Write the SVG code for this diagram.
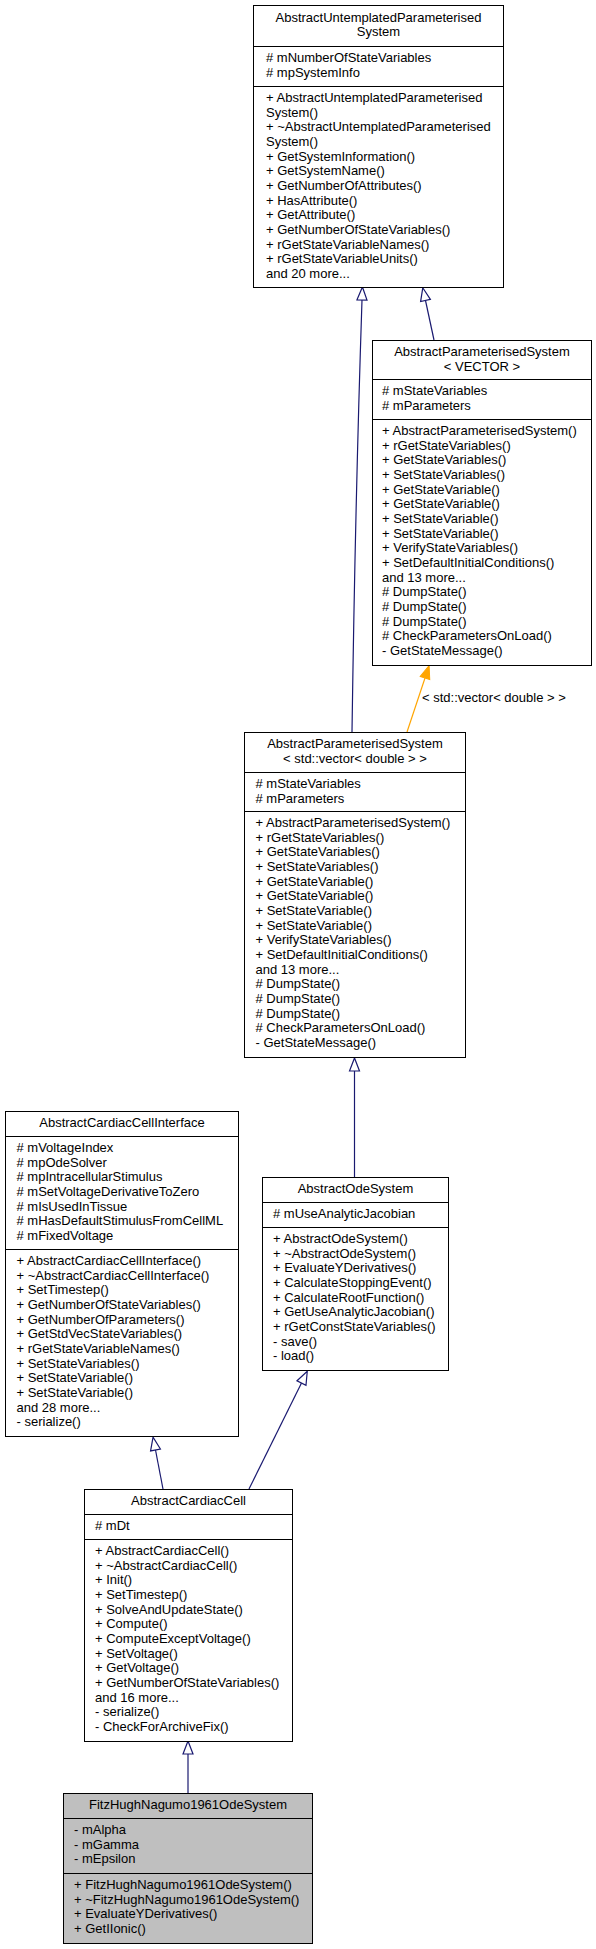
<svg xmlns="http://www.w3.org/2000/svg" width="596" height="1949" viewBox="0 0 596 1949">
<style>
text{font-family:"Liberation Sans",Arial,Helvetica,sans-serif;font-size:13px;fill:#000}
.c{text-anchor:middle}
.box{fill:#fff;stroke:#000;stroke-width:1}
.hl{fill:#bfbfbf;stroke:#000;stroke-width:1}
.div{stroke:#000;stroke-width:1}
.e{fill:none;stroke:#191970;stroke-width:1.2}
.o{fill:none;stroke:#ffa500;stroke-width:1.2}
</style>
<defs>
<marker id="inh" markerUnits="userSpaceOnUse" markerWidth="16" markerHeight="14" refX="0" refY="5" orient="auto" overflow="visible">
<path d="M0,0 L13,5 L0,10 Z" fill="#fff" stroke="#191970" stroke-width="1.2"/>
</marker>
<marker id="tpl" markerUnits="userSpaceOnUse" markerWidth="16" markerHeight="14" refX="0" refY="5" orient="auto" overflow="visible">
<path d="M0,0 L13,5 L0,10 Z" fill="#ffa500" stroke="#ffa500" stroke-width="1"/>
</marker>
</defs>

<g id="connectors">
<path class="e" d="M352,732 C355,520 360,360 362,300" marker-end="url(#inh)"/>
<path class="e" d="M434,340 L425.5,300.5" marker-end="url(#inh)"/>
<path class="o" d="M407,732 L425,678" marker-end="url(#tpl)"/>
<text x="422" y="702">&lt; std::vector&lt; double &gt; &gt;</text>
<path class="e" d="M354.5,1177 L354.5,1071" marker-end="url(#inh)"/>
<path class="e" d="M163,1489 L155.5,1450" marker-end="url(#inh)"/>
<path class="e" d="M249,1489 L301.5,1383" marker-end="url(#inh)"/>
<path class="e" d="M188,1793 L188,1754" marker-end="url(#inh)"/>
</g>

<g id="AbstractUntemplatedParameterisedSystem">
<rect class="box" x="253.5" y="5.5" width="250" height="282"/>
<line class="div" x1="253.5" y1="46.5" x2="503.5" y2="46.5"/>
<line class="div" x1="253.5" y1="86.5" x2="503.5" y2="86.5"/>
<text class="c" x="378.5" y="21.5">AbstractUntemplatedParameterised</text>
<text class="c" x="378.5" y="36.2">System</text>
<text x="266" y="62"># mNumberOfStateVariables<tspan x="266" dy="14.67"># mpSystemInfo</tspan></text>
<text x="266" y="102">+ AbstractUntemplatedParameterised<tspan x="266" dy="14.67">System()</tspan><tspan x="266" dy="14.67">+ ~AbstractUntemplatedParameterised</tspan><tspan x="266" dy="14.67">System()</tspan><tspan x="266" dy="14.67">+ GetSystemInformation()</tspan><tspan x="266" dy="14.67">+ GetSystemName()</tspan><tspan x="266" dy="14.67">+ GetNumberOfAttributes()</tspan><tspan x="266" dy="14.67">+ HasAttribute()</tspan><tspan x="266" dy="14.67">+ GetAttribute()</tspan><tspan x="266" dy="14.67">+ GetNumberOfStateVariables()</tspan><tspan x="266" dy="14.67">+ rGetStateVariableNames()</tspan><tspan x="266" dy="14.67">+ rGetStateVariableUnits()</tspan><tspan x="266" dy="14.67">and 20 more...</tspan></text>
</g>

<g id="AbstractParameterisedSystem_VECTOR">
<rect class="box" x="372.5" y="340.5" width="219" height="325"/>
<line class="div" x1="372.5" y1="379.5" x2="591.5" y2="379.5"/>
<line class="div" x1="372.5" y1="419.5" x2="591.5" y2="419.5"/>
<text class="c" x="482" y="356">AbstractParameterisedSystem</text>
<text class="c" x="482" y="370.7">&lt; VECTOR &gt;</text>
<text x="382" y="395"># mStateVariables<tspan x="382" dy="14.67"># mParameters</tspan></text>
<text x="382" y="435">+ AbstractParameterisedSystem()<tspan x="382" dy="14.67">+ rGetStateVariables()</tspan><tspan x="382" dy="14.67">+ GetStateVariables()</tspan><tspan x="382" dy="14.67">+ SetStateVariables()</tspan><tspan x="382" dy="14.67">+ GetStateVariable()</tspan><tspan x="382" dy="14.67">+ GetStateVariable()</tspan><tspan x="382" dy="14.67">+ SetStateVariable()</tspan><tspan x="382" dy="14.67">+ SetStateVariable()</tspan><tspan x="382" dy="14.67">+ VerifyStateVariables()</tspan><tspan x="382" dy="14.67">+ SetDefaultInitialConditions()</tspan><tspan x="382" dy="14.67">and 13 more...</tspan><tspan x="382" dy="14.67"># DumpState()</tspan><tspan x="382" dy="14.67"># DumpState()</tspan><tspan x="382" dy="14.67"># DumpState()</tspan><tspan x="382" dy="14.67"># CheckParametersOnLoad()</tspan><tspan x="382" dy="14.67">- GetStateMessage()</tspan></text>
</g>

<g id="AbstractParameterisedSystem_std_vector_double">
<rect class="box" x="244.5" y="732.5" width="221" height="325"/>
<line class="div" x1="244.5" y1="772.5" x2="465.5" y2="772.5"/>
<line class="div" x1="244.5" y1="811.5" x2="465.5" y2="811.5"/>
<text class="c" x="355" y="748">AbstractParameterisedSystem</text>
<text class="c" x="355" y="762.7">&lt; std::vector&lt; double &gt; &gt;</text>
<text x="255.5" y="788"># mStateVariables<tspan x="255.5" dy="14.67"># mParameters</tspan></text>
<text x="255.5" y="827">+ AbstractParameterisedSystem()<tspan x="255.5" dy="14.67">+ rGetStateVariables()</tspan><tspan x="255.5" dy="14.67">+ GetStateVariables()</tspan><tspan x="255.5" dy="14.67">+ SetStateVariables()</tspan><tspan x="255.5" dy="14.67">+ GetStateVariable()</tspan><tspan x="255.5" dy="14.67">+ GetStateVariable()</tspan><tspan x="255.5" dy="14.67">+ SetStateVariable()</tspan><tspan x="255.5" dy="14.67">+ SetStateVariable()</tspan><tspan x="255.5" dy="14.67">+ VerifyStateVariables()</tspan><tspan x="255.5" dy="14.67">+ SetDefaultInitialConditions()</tspan><tspan x="255.5" dy="14.67">and 13 more...</tspan><tspan x="255.5" dy="14.67"># DumpState()</tspan><tspan x="255.5" dy="14.67"># DumpState()</tspan><tspan x="255.5" dy="14.67"># DumpState()</tspan><tspan x="255.5" dy="14.67"># CheckParametersOnLoad()</tspan><tspan x="255.5" dy="14.67">- GetStateMessage()</tspan></text>
</g>

<g id="AbstractCardiacCellInterface">
<rect class="box" x="5.5" y="1111.5" width="233" height="325"/>
<line class="div" x1="5.5" y1="1136.5" x2="238.5" y2="1136.5"/>
<line class="div" x1="5.5" y1="1249.5" x2="238.5" y2="1249.5"/>
<text class="c" x="122" y="1127">AbstractCardiacCellInterface</text>
<text x="16.5" y="1152"># mVoltageIndex<tspan x="16.5" dy="14.67"># mpOdeSolver</tspan><tspan x="16.5" dy="14.67"># mpIntracellularStimulus</tspan><tspan x="16.5" dy="14.67"># mSetVoltageDerivativeToZero</tspan><tspan x="16.5" dy="14.67"># mIsUsedInTissue</tspan><tspan x="16.5" dy="14.67"># mHasDefaultStimulusFromCellML</tspan><tspan x="16.5" dy="14.67"># mFixedVoltage</tspan></text>
<text x="16.5" y="1265">+ AbstractCardiacCellInterface()<tspan x="16.5" dy="14.67">+ ~AbstractCardiacCellInterface()</tspan><tspan x="16.5" dy="14.67">+ SetTimestep()</tspan><tspan x="16.5" dy="14.67">+ GetNumberOfStateVariables()</tspan><tspan x="16.5" dy="14.67">+ GetNumberOfParameters()</tspan><tspan x="16.5" dy="14.67">+ GetStdVecStateVariables()</tspan><tspan x="16.5" dy="14.67">+ rGetStateVariableNames()</tspan><tspan x="16.5" dy="14.67">+ SetStateVariables()</tspan><tspan x="16.5" dy="14.67">+ SetStateVariable()</tspan><tspan x="16.5" dy="14.67">+ SetStateVariable()</tspan><tspan x="16.5" dy="14.67">and 28 more...</tspan><tspan x="16.5" dy="14.67">- serialize()</tspan></text>
</g>

<g id="AbstractOdeSystem">
<rect class="box" x="262.5" y="1177.5" width="186" height="193"/>
<line class="div" x1="262.5" y1="1202.5" x2="448.5" y2="1202.5"/>
<line class="div" x1="262.5" y1="1227.5" x2="448.5" y2="1227.5"/>
<text class="c" x="355.5" y="1193">AbstractOdeSystem</text>
<text x="273" y="1218"># mUseAnalyticJacobian</text>
<text x="273" y="1243">+ AbstractOdeSystem()<tspan x="273" dy="14.67">+ ~AbstractOdeSystem()</tspan><tspan x="273" dy="14.67">+ EvaluateYDerivatives()</tspan><tspan x="273" dy="14.67">+ CalculateStoppingEvent()</tspan><tspan x="273" dy="14.67">+ CalculateRootFunction()</tspan><tspan x="273" dy="14.67">+ GetUseAnalyticJacobian()</tspan><tspan x="273" dy="14.67">+ rGetConstStateVariables()</tspan><tspan x="273" dy="14.67">- save()</tspan><tspan x="273" dy="14.67">- load()</tspan></text>
</g>

<g id="AbstractCardiacCell">
<rect class="box" x="84.5" y="1489.5" width="208" height="252"/>
<line class="div" x1="84.5" y1="1514.5" x2="292.5" y2="1514.5"/>
<line class="div" x1="84.5" y1="1539.5" x2="292.5" y2="1539.5"/>
<text class="c" x="188.5" y="1505">AbstractCardiacCell</text>
<text x="95" y="1530"># mDt</text>
<text x="95" y="1555">+ AbstractCardiacCell()<tspan x="95" dy="14.67">+ ~AbstractCardiacCell()</tspan><tspan x="95" dy="14.67">+ Init()</tspan><tspan x="95" dy="14.67">+ SetTimestep()</tspan><tspan x="95" dy="14.67">+ SolveAndUpdateState()</tspan><tspan x="95" dy="14.67">+ Compute()</tspan><tspan x="95" dy="14.67">+ ComputeExceptVoltage()</tspan><tspan x="95" dy="14.67">+ SetVoltage()</tspan><tspan x="95" dy="14.67">+ GetVoltage()</tspan><tspan x="95" dy="14.67">+ GetNumberOfStateVariables()</tspan><tspan x="95" dy="14.67">and 16 more...</tspan><tspan x="95" dy="14.67">- serialize()</tspan><tspan x="95" dy="14.67">- CheckForArchiveFix()</tspan></text>
</g>

<g id="FitzHughNagumo1961OdeSystem">
<rect class="hl" x="63.5" y="1793.5" width="249" height="150"/>
<line class="div" x1="63.5" y1="1818.5" x2="312.5" y2="1818.5"/>
<line class="div" x1="63.5" y1="1873.5" x2="312.5" y2="1873.5"/>
<text class="c" x="188" y="1809">FitzHughNagumo1961OdeSystem</text>
<text x="74" y="1834">- mAlpha<tspan x="74" dy="14.67">- mGamma</tspan><tspan x="74" dy="14.67">- mEpsilon</tspan></text>
<text x="74" y="1889">+ FitzHughNagumo1961OdeSystem()<tspan x="74" dy="14.67">+ ~FitzHughNagumo1961OdeSystem()</tspan><tspan x="74" dy="14.67">+ EvaluateYDerivatives()</tspan><tspan x="74" dy="14.67">+ GetIIonic()</tspan></text>
</g>
</svg>
